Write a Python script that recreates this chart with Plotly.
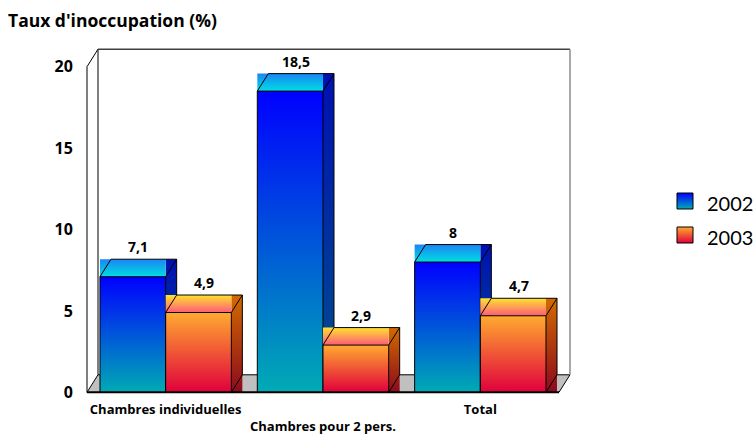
import plotly.graph_objects as go

# ---- data -------------------------------------------------------------
categories = ["Chambres individuelles", "Chambres pour 2 pers.", "Total"]
rate_2002 = [7.1, 18.5, 8.0]
rate_2003 = [4.9, 2.9, 4.7]
series_names = ["2002", "2003"]
y_ticks = [0, 5, 10, 15, 20]

# ---- page / axis geometry (pixels) -----------------------------------
W, H = 756, 434
X0_PX, CAT_PX = 87.0, 157.33      # left edge of the front plane, width of one category
Y0_PX, UNIT_PX = 392.3, 16.28     # baseline of the front plane, pixels per percent
DEPTH_X_PX, DEPTH_Y_PX = 11.0, 17.5

X_RANGE = [(0 - X0_PX) / CAT_PX, (W - X0_PX) / CAT_PX]
Y_RANGE = [(Y0_PX - H) / UNIT_PX, Y0_PX / UNIT_PX]
DX = DEPTH_X_PX / CAT_PX
DY = DEPTH_Y_PX / UNIT_PX
Y_MAX = 20

GROUP_FRAC = 0.835
BAR_W = GROUP_FRAC / 2
GAP = (1 - GROUP_FRAC) / 2


def px_x(p):
    return (p - X0_PX) / CAT_PX


def px_y(p):
    return (Y0_PX - p) / UNIT_PX


STYLES = {
    "2002": dict(front=["#00abb4", "#0000ff"], top=["#00dde2", "#1a86f4"],
                 side=["#00508e", "#0010b2"]),
    "2003": dict(front=["#e0003c", "#ffaa30"], top=["#ff5a7a", "#ffe22e"],
                 side=["#8c0a1c", "#d26a00"]),
}

BOLD = "Open Sans"
PLAIN = "Lato"
fig = go.Figure()


def poly(xs, ys, fill=None, grad=None, line_color="rgba(0,0,0,0)", lw=0):
    kw = dict(x=list(xs) + [xs[0]], y=list(ys) + [ys[0]], mode="lines",
              fill="toself", line=dict(color=line_color, width=lw),
              hoverinfo="skip", showlegend=False)
    if grad is not None:
        kw["fillgradient"] = dict(type="vertical",
                                  colorscale=[[0, grad[0]], [1, grad[1]]])
    else:
        kw["fillcolor"] = fill
    fig.add_trace(go.Scatter(**kw))


def segments(segs, color="black", width=1):
    xs, ys = [], []
    for (xa, ya), (xb, yb) in segs:
        xs += [xa, xb, None]
        ys += [ya, yb, None]
    fig.add_trace(go.Scatter(x=xs, y=ys, mode="lines",
                             line=dict(color=color, width=width),
                             hoverinfo="skip", showlegend=False))


# ---- floor and walls --------------------------------------------------
n = len(categories)
poly([0, n, n + DX, DX], [0, 0, DY, DY], fill="#c0c0c0")
poly([0, 0, DX, DX], [0, Y_MAX, Y_MAX + DY, DY], fill="white")
segments([((0, 0), (0, Y_MAX)), ((0, Y_MAX), (DX, Y_MAX + DY)),
          ((DX, DY), (DX, Y_MAX + DY)), ((0, 0), (DX, DY)),
          ((DX, DY), (n + DX, DY)), ((n, 0), (n + DX, DY))], width=1)
segments([((DX, Y_MAX + DY), (n + DX, Y_MAX + DY))], color="#404040", width=1.5)
segments([((n + DX, DY), (n + DX, Y_MAX + DY))], color="#8c8c8c", width=1.5)

# ---- 3-D bars -----------------------------------------------------------
labels = []
for i in range(n):
    for k, (name, vals) in enumerate(zip(series_names, [rate_2002, rate_2003])):
        v = vals[i]
        st = STYLES[name]
        x0 = i + GAP + k * BAR_W
        x1 = x0 + BAR_W
        # side face (bounding strip, dark)
        poly([x1, x1 + DX, x1 + DX, x1], [0, 0, v + DY, v + DY], grad=st["side"])
        # top face (bounding strip)
        poly([x0, x1, x1, x0], [v, v, v + DY, v + DY], grad=st["top"])
        # front face
        poly([x0, x1, x1, x0], [0, 0, v, v], grad=st["front"])
        segments([((x0, 0), (x0, v)), ((x0, v), (x1, v)), ((x1, v), (x1, 0)),
                  ((x0, v), (x0 + DX, v + DY)), ((x0 + DX, v + DY), (x1 + DX, v + DY)),
                  ((x1, v), (x1 + DX, v + DY)), ((x1 + DX, v + DY), (x1 + DX, DY)),
                  ((x1, 0), (x1 + DX, DY))], width=1)
        labels.append((x0 + BAR_W / 2 + DX / 2, v + DY, f"{v:g}".replace(".", ",")))

# front baseline
segments([((0, 0), (n, 0))], width=2)

annotations = []
for x, y, t in labels:
    annotations.append(dict(x=x, y=y, text=t, showarrow=False, xref="x", yref="y",
                            xanchor="center", yanchor="bottom", yshift=1,
                            font=dict(family=BOLD, size=14, color="black", weight="bold")))

# ---- legend (drawn) ------------------------------------------------------
LEG_X, LEG_SIZE = 677, 16
leg_rows = [193, 227]
for name, top in zip(series_names, leg_rows):
    st = STYLES[name]
    xa, xb = px_x(LEG_X), px_x(LEG_X + LEG_SIZE)
    ya, yb = px_y(top + LEG_SIZE), px_y(top)
    poly([xa, xb, xb, xa], [ya, ya, yb, yb], grad=st["front"], line_color="black", lw=1)
    annotations.append(dict(x=px_x(LEG_X + LEG_SIZE + 12), y=px_y(top + LEG_SIZE / 2 + 2),
                            text=name, showarrow=False, xanchor="left", yanchor="middle",
                            font=dict(family=PLAIN, size=20, color="black")))

# ---- title -----------------------------------------------------------------
annotations.append(dict(x=6 / W, y=1 - 20 / H, xref="paper", yref="paper",
                        text="Taux d'inoccupation (%)", showarrow=False,
                        xanchor="left", yanchor="middle",
                        font=dict(family=BOLD, size=17.5, color="black", weight="bold")))

tick_text = [c if j % 2 == 0 else "<br>" + c for j, c in enumerate(categories)]

fig.update_layout(
    width=W, height=H, autosize=False,
    margin=dict(l=0, r=0, t=0, b=0, pad=0),
    paper_bgcolor="white", plot_bgcolor="white",
    showlegend=False,
    annotations=annotations,
    xaxis=dict(domain=[0, 1], range=X_RANGE, anchor="free", position=(H - Y0_PX) / H,
               tickmode="array", tickvals=[i + 0.5 for i in range(n)], ticktext=tick_text,
               ticks="outside", ticklen=5, tickcolor="rgba(0,0,0,0)",
               showgrid=False, zeroline=False, showline=False, fixedrange=True,
               tickfont=dict(family=BOLD, size=13, color="black", weight="bold")),
    yaxis=dict(domain=[0, 1], range=Y_RANGE, anchor="free", position=X0_PX / W,
               tickmode="array", tickvals=y_ticks,
               ticks="outside", ticklen=11, tickcolor="rgba(0,0,0,0)",
               showgrid=False, zeroline=False, showline=False, fixedrange=True,
               tickfont=dict(family=BOLD, size=16, color="black", weight="bold")),
)

fig.write_html("out.html")
